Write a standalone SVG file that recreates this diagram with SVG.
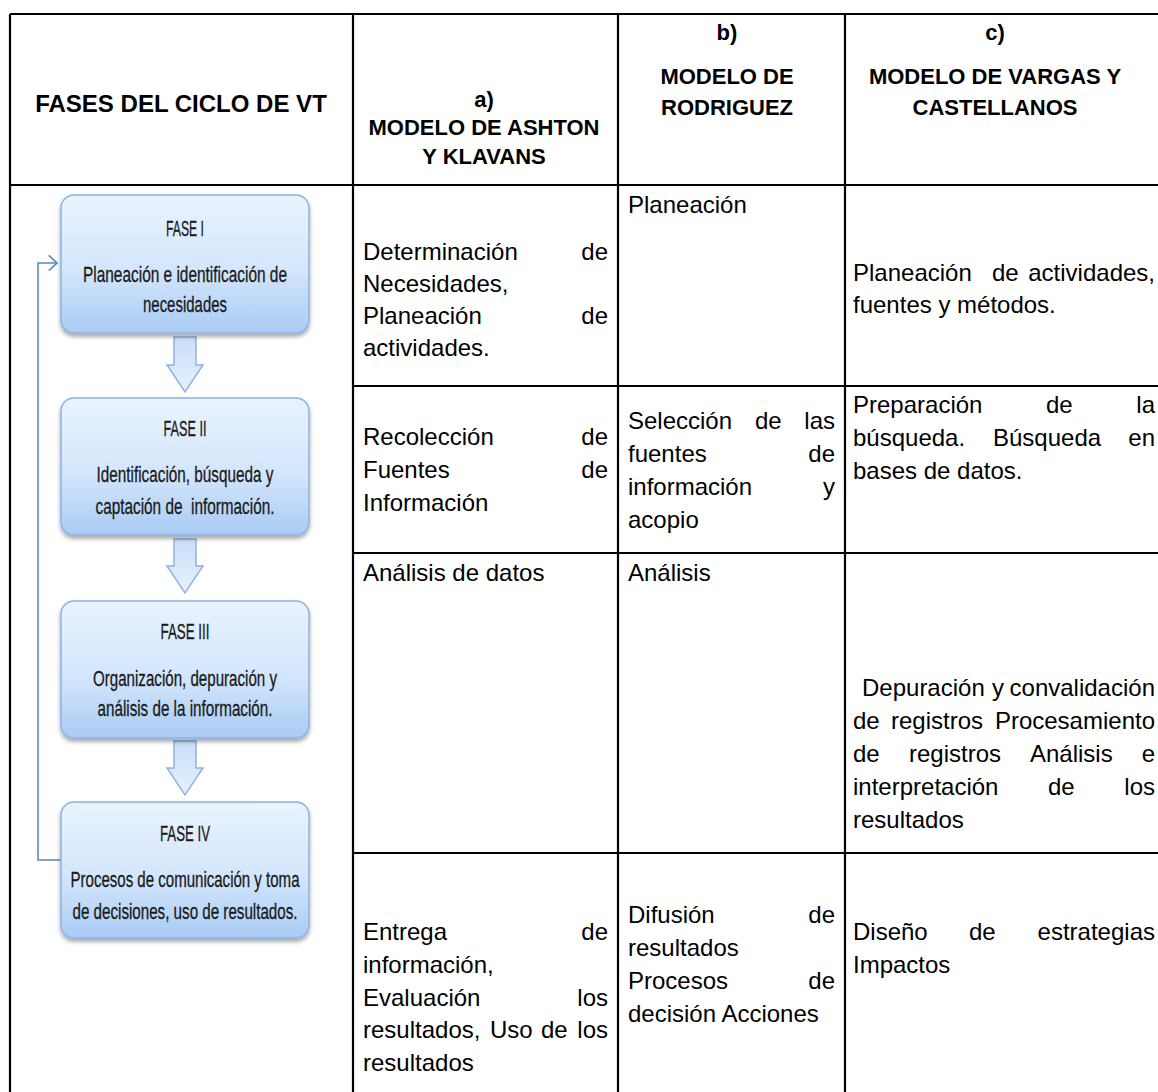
<svg xmlns="http://www.w3.org/2000/svg" width="1158" height="1092" viewBox="0 0 1158 1092">
<style>
.hd{font-family:"Liberation Sans",Arial,sans-serif;font-weight:bold;font-size:22px;fill:#000;text-anchor:middle}
.bt{font-family:"Liberation Sans",Arial,sans-serif;font-size:24px;fill:#000}
.e{text-anchor:end}
.fc{font-family:"Liberation Sans",Arial,sans-serif;font-size:22px;fill:#1a1a1a;stroke:#1a1a1a;stroke-width:0.3;text-anchor:middle}
.grid{stroke:#000;stroke-width:2.2;fill:none}
.box{fill:url(#bg);stroke:#8db3e2;stroke-width:1.5;filter:url(#sh)}
.arr{fill:url(#ag);stroke:#8db3e2;stroke-width:1.5}
.loop{fill:none;stroke:#5a87c4;stroke-width:1.6}
</style>
<defs>
<linearGradient id="bg" x1="0" y1="0" x2="0" y2="1">
<stop offset="0" stop-color="#e9f3fe"/>
<stop offset="0.55" stop-color="#d3e6fc"/>
<stop offset="1" stop-color="#a9cbf4"/>
</linearGradient>
<linearGradient id="ag" x1="0" y1="0" x2="0" y2="1">
<stop offset="0" stop-color="#c9def8"/>
<stop offset="1" stop-color="#e6f1fd"/>
</linearGradient>
<filter id="sh" x="-10%" y="-10%" width="120%" height="130%">
<feDropShadow dx="0" dy="3" stdDeviation="2" flood-color="#000" flood-opacity="0.35"/>
</filter>
<marker id="open" markerUnits="userSpaceOnUse" markerWidth="10" markerHeight="17" viewBox="0 0 10 17" refX="9" refY="8.5" orient="auto">
<path d="M0.8,0.8 L9,8.5 L0.8,16.2" fill="none" stroke="#5a87c4" stroke-width="1.6"/>
</marker>
</defs>
<rect width="1158" height="1092" fill="#fff"/>

<g id="table">
<path class="grid" d="M10,14 H1158 M10,185 H1158 M353,386 H1158 M353,553 H1158 M353,853 H1158 M10,14 V1092 M353,14 V1092 M618,14 V1092 M845,14 V1092"/>
</g>

<g id="headers">
<text class="hd" x="181" y="112" style="font-size:24px">FASES DEL CICLO DE VT</text>
<text class="hd" x="484" y="107">a)</text>
<text class="hd" x="484" y="135">MODELO DE ASHTON</text>
<text class="hd" x="484" y="164">Y KLAVANS</text>
<text class="hd" x="727" y="40">b)</text>
<text class="hd" x="727" y="84">MODELO DE</text>
<text class="hd" x="727" y="115">RODRIGUEZ</text>
<text class="hd" x="995" y="40">c)</text>
<text class="hd" x="995" y="84">MODELO DE VARGAS Y</text>
<text class="hd" x="995" y="115">CASTELLANOS</text>
</g>

<g id="connectors">
<path class="arr" d="M174,337 H196 V365 H203 L185,392 L167,365 H174 Z"/>
<path class="arr" d="M174,539 H196 V566 H203 L185,593 L167,566 H174 Z"/>
<path class="arr" d="M174,741 H196 V768 H203 L185,795 L167,768 H174 Z"/>
<path class="loop" d="M61,860 H38 V263 H57" marker-end="url(#open)"/>
</g>

<g id="fase1">
<rect class="box" x="61" y="195" width="248" height="138" rx="13"/>
<text class="fc" x="185" y="236" textLength="38" lengthAdjust="spacingAndGlyphs">FASE I</text>
<text class="fc" x="185" y="282" textLength="204" lengthAdjust="spacingAndGlyphs">Planeación e identificación de</text>
<text class="fc" x="185" y="312" textLength="84" lengthAdjust="spacingAndGlyphs">necesidades</text>
</g>
<g id="fase2">
<rect class="box" x="61" y="398" width="248" height="137" rx="13"/>
<text class="fc" x="185" y="436" textLength="43" lengthAdjust="spacingAndGlyphs">FASE II</text>
<text class="fc" x="185" y="482" textLength="177" lengthAdjust="spacingAndGlyphs">Identificación, búsqueda y</text>
<text class="fc" x="185" y="514" textLength="179" lengthAdjust="spacingAndGlyphs" xml:space="preserve">captación de  información.</text>
</g>
<g id="fase3">
<rect class="box" x="61" y="601" width="248" height="137" rx="13"/>
<text class="fc" x="185" y="639" textLength="49" lengthAdjust="spacingAndGlyphs">FASE III</text>
<text class="fc" x="185" y="686" textLength="184" lengthAdjust="spacingAndGlyphs">Organización, depuración y</text>
<text class="fc" x="185" y="716" textLength="175" lengthAdjust="spacingAndGlyphs">análisis de la información.</text>
</g>
<g id="fase4">
<rect class="box" x="61" y="802" width="248" height="136" rx="13"/>
<text class="fc" x="185" y="841" textLength="50" lengthAdjust="spacingAndGlyphs">FASE IV</text>
<text class="fc" x="185" y="887" textLength="229" lengthAdjust="spacingAndGlyphs">Procesos de comunicación y toma</text>
<text class="fc" x="185" y="919" textLength="225" lengthAdjust="spacingAndGlyphs">de decisiones, uso de resultados.</text>
</g>

<g id="col-a">
<text class="bt" x="363" y="260">Determinación</text><text class="bt e" x="608" y="260">de</text>
<text class="bt" x="363" y="292">Necesidades,</text>
<text class="bt" x="363" y="324">Planeación</text><text class="bt e" x="608" y="324">de</text>
<text class="bt" x="363" y="356">actividades.</text>
<text class="bt" x="363" y="445">Recolección</text><text class="bt e" x="608" y="445">de</text>
<text class="bt" x="363" y="478">Fuentes</text><text class="bt e" x="608" y="478">de</text>
<text class="bt" x="363" y="511">Información</text>
<text class="bt" x="363" y="581">Análisis de datos</text>
<text class="bt" x="363" y="940">Entrega</text><text class="bt e" x="608" y="940">de</text>
<text class="bt" x="363" y="973">información,</text>
<text class="bt" x="363" y="1006">Evaluación</text><text class="bt e" x="608" y="1006">los</text>
<text class="bt" x="363" y="1038">resultados,</text><text class="bt" x="490" y="1038">Uso</text><text class="bt" x="541" y="1038">de</text><text class="bt e" x="608" y="1038">los</text>
<text class="bt" x="363" y="1071">resultados</text>
</g>

<g id="col-b">
<text class="bt" x="628" y="213">Planeación</text>
<text class="bt" x="628" y="429">Selección</text><text class="bt" x="755" y="429">de</text><text class="bt e" x="835" y="429">las</text>
<text class="bt" x="628" y="462">fuentes</text><text class="bt e" x="835" y="462">de</text>
<text class="bt" x="628" y="495">información</text><text class="bt e" x="835" y="495">y</text>
<text class="bt" x="628" y="528">acopio</text>
<text class="bt" x="628" y="581">Análisis</text>
<text class="bt" x="628" y="923">Difusión</text><text class="bt e" x="835" y="923">de</text>
<text class="bt" x="628" y="956">resultados</text>
<text class="bt" x="628" y="989">Procesos</text><text class="bt e" x="835" y="989">de</text>
<text class="bt" x="628" y="1022">decisión Acciones</text>
</g>

<g id="col-c">
<text class="bt" x="853" y="281">Planeación</text><text class="bt" x="992" y="281">de</text><text class="bt e" x="1155" y="281">actividades,</text>
<text class="bt" x="853" y="313">fuentes y métodos.</text>
<text class="bt" x="853" y="413">Preparación</text><text class="bt" x="1046" y="413">de</text><text class="bt e" x="1155" y="413">la</text>
<text class="bt" x="853" y="446">búsqueda.</text><text class="bt" x="993" y="446">Búsqueda</text><text class="bt e" x="1155" y="446">en</text>
<text class="bt" x="853" y="479">bases de datos.</text>
<text class="bt" x="862" y="696">Depuración</text><text class="bt" x="992" y="696">y</text><text class="bt e" x="1155" y="696">convalidación</text>
<text class="bt" x="853" y="729">de</text><text class="bt" x="891" y="729">registros</text><text class="bt e" x="1155" y="729">Procesamiento</text>
<text class="bt" x="853" y="762">de</text><text class="bt" x="909" y="762">registros</text><text class="bt" x="1030" y="762">Análisis</text><text class="bt e" x="1155" y="762">e</text>
<text class="bt" x="853" y="795">interpretación</text><text class="bt" x="1048" y="795">de</text><text class="bt e" x="1155" y="795">los</text>
<text class="bt" x="853" y="828">resultados</text>
<text class="bt" x="853" y="940">Diseño</text><text class="bt" x="969" y="940">de</text><text class="bt e" x="1155" y="940">estrategias</text>
<text class="bt" x="853" y="973">Impactos</text>
</g>
</svg>
